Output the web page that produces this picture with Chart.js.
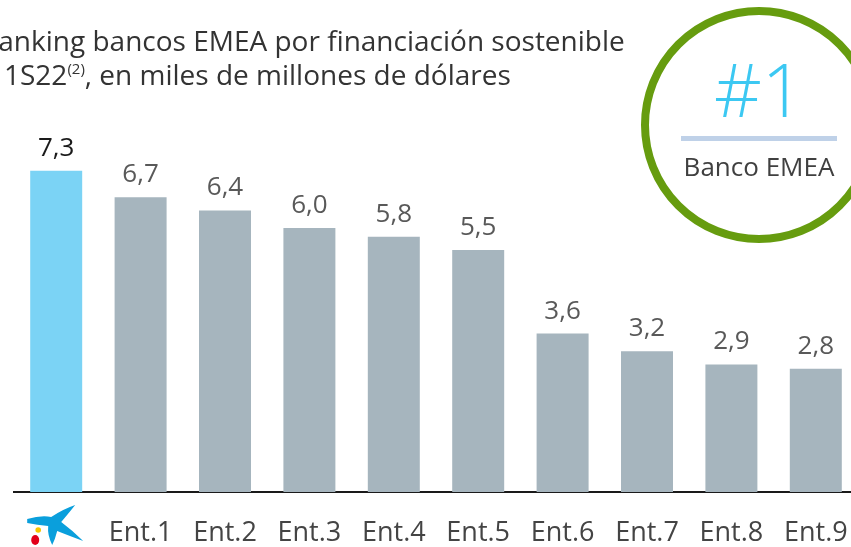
<!DOCTYPE html>
<html>
<head>
<meta charset="utf-8">
<script src="https://cdn.jsdelivr.net/npm/chart.js@4.4.1/dist/chart.umd.min.js"></script>
<style>
  html, body { margin: 0; padding: 0; background: #fff; }
  body { width: 851px; height: 547px; overflow: hidden; position: relative; font-family: "Open Sans", "Noto Sans", sans-serif; }
  #wrap { position: absolute; left: 0; top: 0; width: 900px; height: 547px; }
  .title { position: absolute; font-size: 28px; color: #333; white-space: nowrap; line-height: 1; }
  .title sup { font-size: 15px; vertical-align: 0; position: relative; top: -11px; }
  #badge { position: absolute; left: 641px; top: 7px; width: 220px; height: 220px; border: 8px solid #669c0f; border-radius: 50%; box-sizing: content-box; }
  #rank { position: absolute; left: -8px; width: 236px; top: 37px; text-align: center; font-size: 74px; color: #3cc8f2; line-height: 1; font-weight: 300; }
  #rule { position: absolute; left: 32px; top: 121px; width: 156px; height: 5px; background: #bfd1e8; }
  #sub { position: absolute; left: -8px; width: 236px; top: 138px; text-align: center; font-size: 26px; color: #404040; line-height: 1; }
</style>
</head>
<body>
<div id="wrap"><canvas id="chart" width="900" height="547"></canvas></div>
<div class="title" style="left:-19px; top:26px;">Ranking bancos EMEA por financiación sostenible</div>
<div class="title" style="left:4px; top:60px;">1S22<sup>(2)</sup>, en miles de millones de dólares</div>
<div id="badge">
  <div id="rank">#1</div>
  <div id="rule"></div>
  <div id="sub">Banco EMEA</div>
</div>
<script>
const categories = ['', 'Ent.1', 'Ent.2', 'Ent.3', 'Ent.4', 'Ent.5', 'Ent.6', 'Ent.7', 'Ent.8', 'Ent.9'];
const values = [7.3, 6.7, 6.4, 6.0, 5.8, 5.5, 3.6, 3.2, 2.9, 2.8];
const barColors = ['#7bd3f5', '#a6b5be', '#a6b5be', '#a6b5be', '#a6b5be', '#a6b5be', '#a6b5be', '#a6b5be', '#a6b5be', '#a6b5be'];

// value labels above the bars (comma decimals)
const valueLabels = {
    id: 'valueLabels',
    afterDatasetsDraw(chart) {
        const ctx = chart.ctx;
        const meta = chart.getDatasetMeta(0);
        ctx.save();
        ctx.font = '26px "Open Sans", "Noto Sans", sans-serif';
        ctx.textAlign = 'center';
        ctx.textBaseline = 'alphabetic';
        meta.data.forEach((bar, i) => {
            ctx.fillStyle = i === 0 ? '#1a1a1a' : '#595959';
            ctx.fillText(values[i].toFixed(1).replace('.', ','), bar.x, bar.y - 15);
        });
        ctx.restore();
    }
};

// logo in place of the first category label
const logoTick = {
    id: 'logoTick',
    afterDraw(chart) {
        const ctx = chart.ctx;
        const x = chart.scales.x.getPixelForTick(0);
        ctx.save();
        ctx.translate(x - 1, 523);
        ctx.fillStyle = '#0a9fdc';
        ctx.beginPath();
        ctx.moveTo(-28, -4);
        ctx.quadraticCurveTo(-14, -8, -4, -6);
        ctx.quadraticCurveTo(8, -14, 20, -18);
        ctx.quadraticCurveTo(12, -8, 6, -1);
        ctx.quadraticCurveTo(18, 8, 28, 18);
        ctx.quadraticCurveTo(12, 12, 2, 8);
        ctx.quadraticCurveTo(0, 16, -3, 22);
        ctx.quadraticCurveTo(-8, 12, -7, 3);
        ctx.quadraticCurveTo(-18, 2, -28, 0);
        ctx.closePath();
        ctx.fill();
        ctx.fillStyle = '#f7c600';
        ctx.beginPath();
        ctx.arc(-17, 7, 2.8, 0, Math.PI * 2);
        ctx.fill();
        ctx.fillStyle = '#e2001a';
        ctx.beginPath();
        ctx.ellipse(-20, 17, 4, 5, 0, 0, Math.PI * 2);
        ctx.fill();
        ctx.restore();
    }
};

new Chart(document.getElementById('chart'), {
    type: 'bar',
    data: {
        labels: categories,
        datasets: [{
            data: values,
            backgroundColor: barColors,
            barPercentage: 1,
            categoryPercentage: 0.616
        }]
    },
    options: {
        responsive: false,
        animation: false,
        layout: { padding: { left: 14, right: 42, top: 140, bottom: 0 } },
        plugins: { legend: { display: false }, tooltip: { enabled: false } },
        scales: {
            y: { display: false, min: 0, max: 8 },
            x: {
                afterFit: s => { s.height = 55; },
                grid: { display: false, drawTicks: false },
                border: { display: true, color: '#1a1a1a', width: 2 },
                ticks: { color: '#444', padding: 25, font: { size: 27, family: '"Open Sans", "Noto Sans", sans-serif' } }
            }
        }
    },
    plugins: [valueLabels, logoTick]
});
</script>
</body>
</html>
